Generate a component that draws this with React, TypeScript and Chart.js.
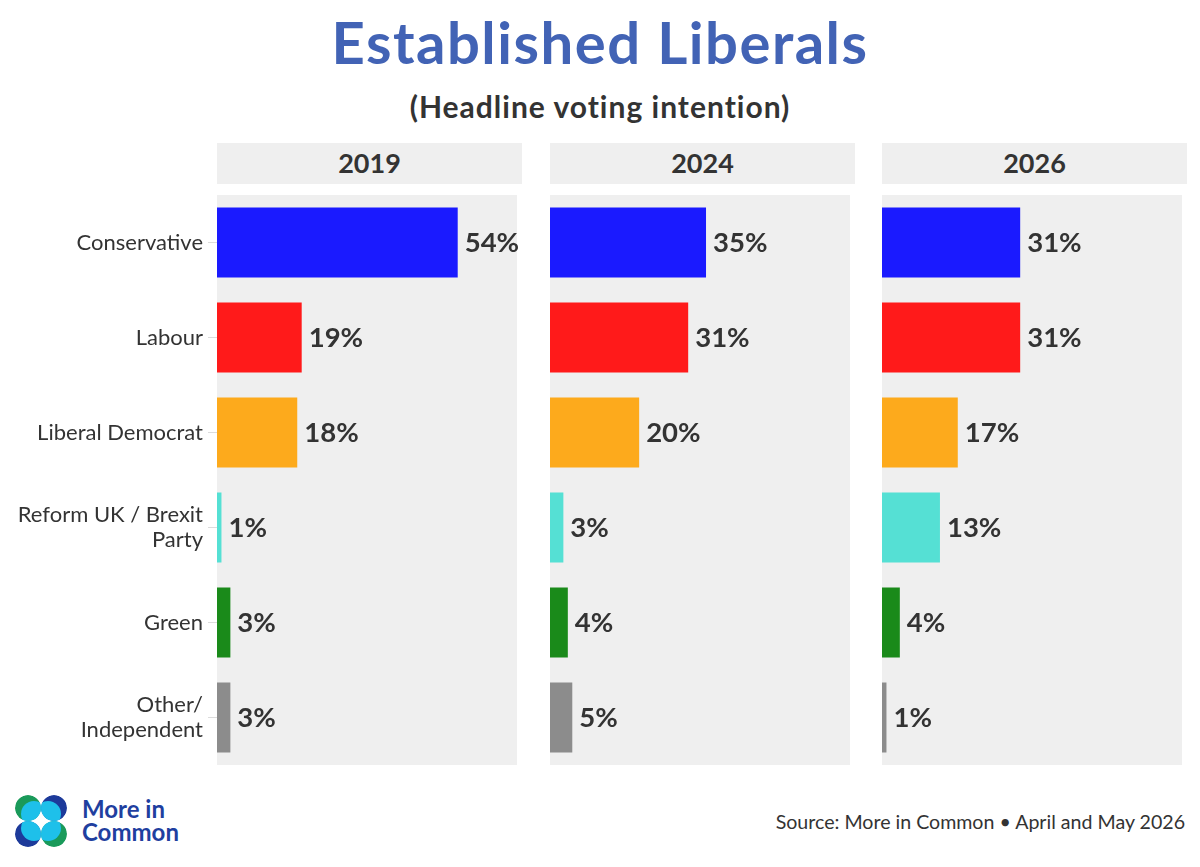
import React, { useEffect, useRef } from "react";
import { Chart, registerables } from "chart.js";

Chart.register(...registerables);

const categories: (string | string[])[] = [
  "Conservative",
  "Labour",
  "Liberal Democrat",
  ["Reform UK / Brexit", "Party"],
  "Green",
  ["Other/", "Independent"],
];
const years = ["2019", "2024", "2026"];
const values2019 = [54, 19, 18, 1, 3, 3];
const values2024 = [35, 31, 20, 3, 4, 5];
const values2026 = [31, 31, 17, 13, 4, 1];
const partyColors = ["#1a1aff", "#ff1a1a", "#fdaa1c", "#55e0d4", "#1a8a1a", "#8c8c8c"];

const FONT = "Lato, 'Open Sans', sans-serif";
const X_MAX = 67.3;

const panelBg = {
  id: "panelBg",
  beforeDatasetsDraw(chart: any) {
    const { ctx, chartArea } = chart;
    ctx.save();
    ctx.fillStyle = "#efefef";
    ctx.fillRect(chartArea.left, chartArea.top, chartArea.right - chartArea.left, chartArea.bottom - chartArea.top);
    ctx.restore();
  },
};

const valueLabels = {
  id: "valueLabels",
  afterDatasetsDraw(chart: any) {
    const { ctx } = chart;
    const meta = chart.getDatasetMeta(0);
    const data = chart.data.datasets[0].data;
    ctx.save();
    ctx.font = `bold 27.5px ${FONT}`;
    ctx.fillStyle = "#333333";
    ctx.textAlign = "left";
    ctx.textBaseline = "middle";
    meta.data.forEach((el: any, i: number) => {
      ctx.fillText(`${data[i]}%`, el.x + 7, el.y + 1);
    });
    ctx.restore();
  },
};

function Panel(props: { values: number[]; showLabels: boolean; left: number; width: number; padRight: number }) {
  const ref = useRef<HTMLCanvasElement>(null);
  useEffect(() => {
    if (!ref.current) return;
    const chart = new Chart(ref.current, {
      type: "bar",
      data: {
        labels: categories as any,
        datasets: [
          {
            data: props.values,
            backgroundColor: partyColors,
            barPercentage: 70 / 95,
            categoryPercentage: 1,
          },
        ],
      },
      options: {
        indexAxis: "y",
        responsive: false,
        animation: false,
        layout: { padding: { left: 0, right: props.padRight, top: 0, bottom: 0 } },
        plugins: { legend: { display: false }, tooltip: { enabled: false } },
        scales: {
          x: { display: false, min: 0, max: X_MAX },
          y: props.showLabels
            ? {
                display: true,
                afterFit: (s: any) => {
                  s.width = 217;
                  s.paddingTop = 0;
                  s.paddingBottom = 0;
                },
                grid: { drawOnChartArea: false, drawTicks: true, tickLength: 9, color: "#dcdcdc", offset: false },
                border: { display: false },
                ticks: {
                  color: "#333333",
                  padding: 5,
                  font: { family: FONT, size: 22, lineHeight: 1.15 },
                },
              }
            : { display: false },
        },
      },
      plugins: [panelBg, valueLabels],
    });
    return () => chart.destroy();
  }, []);
  return (
    <canvas
      ref={ref}
      width={props.width}
      height={570}
      style={{ position: "absolute", left: props.left, top: 195, width: props.width, height: 570 }}
    />
  );
}

function Logo() {
  const r = 13;
  const centers = [
    { cx: 13, cy: 13, dx: 6, dy: 6, col: "#1a9a5a" },
    { cx: 39, cy: 13, dx: -6, dy: 6, col: "#1d3a9a" },
    { cx: 13, cy: 39, dx: 6, dy: -6, col: "#1d3a9a" },
    { cx: 39, cy: 39, dx: -6, dy: -6, col: "#1a9a5a" },
  ];
  return (
    <svg width={52} height={52} style={{ position: "absolute", left: 15, top: 795 }}>
      <defs>
        {centers.map((c, i) => (
          <clipPath id={`lc${i}`} key={i}>
            <circle cx={c.cx} cy={c.cy} r={r} />
          </clipPath>
        ))}
      </defs>
      {centers.map((c, i) => (
        <g key={i} clipPath={`url(#lc${i})`}>
          <circle cx={c.cx} cy={c.cy} r={r} fill={c.col} />
          <circle cx={c.cx + c.dx} cy={c.cy + c.dy} r={r} fill="#1ec0ea" />
        </g>
      ))}
    </svg>
  );
}

export default function App() {
  useEffect(() => {
    document.body.style.margin = "0";
  }, []);
  const panels = [
    { values: values2019, left: 0, width: 560, padRight: 43, hdrLeft: 217 },
    { values: values2024, left: 550, width: 330, padRight: 30, hdrLeft: 550 },
    { values: values2026, left: 882, width: 318, padRight: 18, hdrLeft: 882 },
  ];
  return (
    <div style={{ position: "relative", width: 1200, height: 867, background: "#fff", fontFamily: FONT, overflow: "hidden" }}>
      <div
        style={{
          position: "absolute",
          top: 7,
          left: 0,
          width: 1200,
          textAlign: "center",
          fontSize: 58,
          fontWeight: 700,
          lineHeight: 1.2,
          letterSpacing: 1.5,
          color: "#4263b5",
        }}
      >
        Established Liberals
      </div>
      <div
        style={{
          position: "absolute",
          top: 88,
          left: 0,
          width: 1200,
          textAlign: "center",
          fontSize: 30,
          fontWeight: 700,
          lineHeight: 1.2,
          letterSpacing: 1,
          color: "#333333",
        }}
      >
        (Headline voting intention)
      </div>
      {panels.map((p, i) => (
        <div
          key={"h" + i}
          style={{
            position: "absolute",
            left: p.hdrLeft,
            top: 143,
            width: 305,
            height: 41,
            background: "#efefef",
            display: "flex",
            alignItems: "center",
            justifyContent: "center",
            fontSize: 27,
            fontWeight: 700,
            color: "#333333",
            lineHeight: 1.2,
          }}
        >
          {years[i]}
        </div>
      ))}
      {panels.map((p, i) => (
        <Panel key={"p" + i} values={p.values} showLabels={i === 0} left={p.left} width={p.width} padRight={p.padRight} />
      ))}
      <Logo />
      <div
        style={{
          position: "absolute",
          left: 82,
          top: 797,
          fontSize: 24,
          fontWeight: 700,
          lineHeight: "23px",
          color: "#1f3f9f",
        }}
      >
        More in
        <br />
        Common
      </div>
      <div
        style={{
          position: "absolute",
          right: 15,
          top: 810,
          fontSize: 19.6,
          color: "#333333",
          lineHeight: 1.2,
        }}
      >
        Source: More in Common • April and May 2026
      </div>
    </div>
  );
}
